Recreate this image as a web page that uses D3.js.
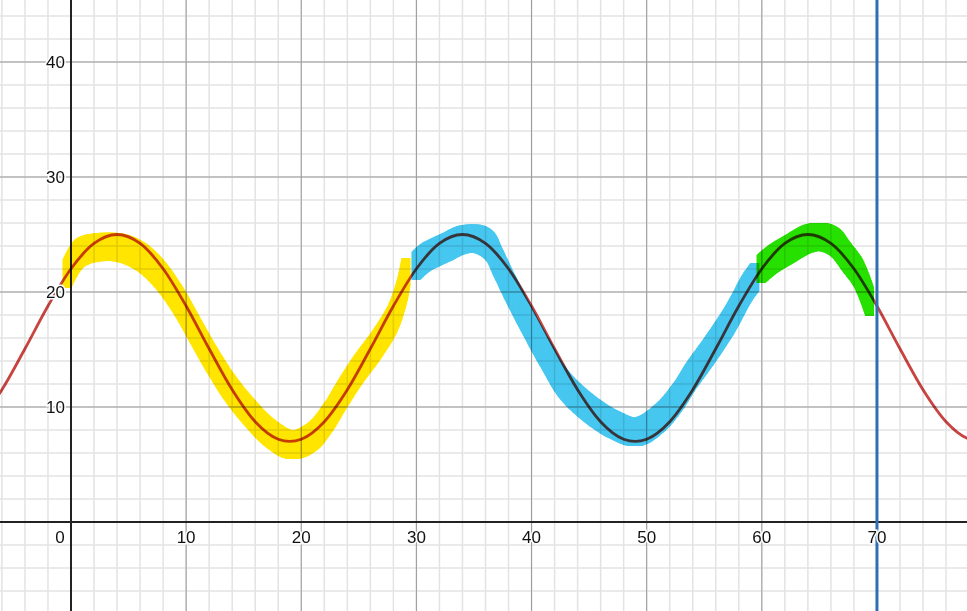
<!DOCTYPE html>
<html>
<head>
<meta charset="utf-8">
<script src="https://cdn.jsdelivr.net/npm/d3@7"></script>
<style>
  body { margin: 0; background: #fff; }
  text { font-family: "Liberation Sans", Arial, sans-serif; }
</style>
</head>
<body>
<div id="chart"></div>
<script>
// curve samples, every 2 units
var curveX = d3.range(-8, 81, 2);
var curveY = [8.72, 11.5, 15.06, 18.78, 22.02, 24.22, 25, 24.22, 22.02, 18.78,
              15.06, 11.5, 8.72, 7.2, 7.2, 8.72, 11.5, 15.06, 18.78, 22.02,
              24.22, 25, 24.22, 22.02, 18.78, 15.06, 11.5, 8.72, 7.2, 7.2,
              8.72, 11.5, 15.06, 18.78, 22.02, 24.22, 25, 24.22, 22.02, 18.78,
              15.06, 11.5, 8.72, 7.2, 7.2];

// hand drawn highlighter strokes (path of the nib centre)
var yellowStroke = [[-0.35, 21.57], [0.78, 23.4], [2.52, 23.9], [4.43, 23.8], [6.16, 23.0],
                    [7.73, 21.5], [9.29, 19.3], [10.76, 16.7], [12.24, 14.1], [13.8, 11.65],
                    [15.54, 9.48], [17.27, 7.74], [19.18, 6.7], [20.92, 7.39], [22.3, 9.04],
                    [23.52, 11.04], [24.91, 13.2], [26.65, 15.57], [27.95, 17.74], [28.73, 20.0],
                    [29.09, 21.74]];
var blueStroke = [[29.96, 22.26], [30.73, 22.96], [32.64, 23.91], [33.94, 24.52], [35.33, 24.61],
                  [36.37, 24.0], [37.07, 22.61], [38.11, 20.43], [39.58, 17.57], [41.15, 14.7],
                  [42.71, 12.09], [44.62, 10.17], [47.05, 8.52], [49.13, 7.83], [51.13, 9.04],
                  [52.69, 10.87], [53.91, 12.78], [55.3, 14.7], [57.2, 17.57], [58.77, 20.43],
                  [59.4, 21.3]];
var greenStroke = [[59.93, 22.0], [60.85, 22.78], [62.41, 23.74], [63.98, 24.61], [65.2, 24.78],
                   [66.32, 24.35], [67.36, 23.04], [68.32, 21.74], [69.01, 20.17], [69.36, 19.13]];

var xTicks = [0, 10, 20, 30, 40, 50, 60, 70];
var yTicks = [10, 20, 30, 40];
var markerX = 70;

var width = 967, height = 611;

var svg = d3.select("#chart")
  .append("svg")
    .attr("width", width)
    .attr("height", height);

svg.append("rect").attr("width", width).attr("height", height).attr("fill", "#fff");

var x = d3.scaleLinear().domain([-6.166, 77.82]).range([0, width]);
var y = d3.scaleLinear().domain([-7.74, 45.39]).range([height, 0]);

// minor grid
svg.append("g").selectAll("line")
  .data(d3.range(-6, 78, 2))
  .enter().append("line")
    .attr("x1", function(d) { return x(d); })
    .attr("x2", function(d) { return x(d); })
    .attr("y1", 0).attr("y2", height)
    .attr("stroke", "#e3e3e3").attr("stroke-width", 1.5);
svg.append("g").selectAll("line")
  .data(d3.range(-6, 46, 2))
  .enter().append("line")
    .attr("y1", function(d) { return y(d); })
    .attr("y2", function(d) { return y(d); })
    .attr("x1", 0).attr("x2", width)
    .attr("stroke", "#e3e3e3").attr("stroke-width", 1.5);

// major grid
svg.append("g").selectAll("line")
  .data(xTicks.slice(1))
  .enter().append("line")
    .attr("x1", function(d) { return x(d); })
    .attr("x2", function(d) { return x(d); })
    .attr("y1", 0).attr("y2", height)
    .attr("stroke", "#9a9a9a").attr("stroke-width", 1);
svg.append("g").selectAll("line")
  .data(yTicks)
  .enter().append("line")
    .attr("y1", function(d) { return y(d); })
    .attr("y2", function(d) { return y(d); })
    .attr("x1", 0).attr("x2", width)
    .attr("stroke", "#9a9a9a").attr("stroke-width", 1);

// axes
svg.append("line")
  .attr("x1", x(0)).attr("x2", x(0)).attr("y1", 0).attr("y2", height)
  .attr("stroke", "#222").attr("stroke-width", 2);
svg.append("line")
  .attr("y1", y(0)).attr("y2", y(0)).attr("x1", 0).attr("x2", width)
  .attr("stroke", "#222").attr("stroke-width", 2);

// highlighter strokes: a flat nib (narrow, tall) swept along a smooth path
var hl = d3.line()
  .x(function(d) { return x(d[0]); })
  .y(function(d) { return y(d[1]); })
  .curve(d3.curveCatmullRom);

var nibW = 9, nibH = 28;

function sweep(pts) {
  var tmp = svg.append("path").attr("d", hl(pts)).attr("fill", "none");
  var node = tmp.node(), len = node.getTotalLength();
  var samples = [];
  for (var s = 0; s < len; s += 2) samples.push(node.getPointAtLength(s));
  samples.push(node.getPointAtLength(len));
  tmp.remove();
  var polys = [];
  for (var i = 1; i < samples.length; i++) {
    var a = samples[i - 1], b = samples[i], corners = [];
    [a, b].forEach(function(p) {
      corners.push([p.x - nibW / 2, p.y - nibH / 2], [p.x + nibW / 2, p.y - nibH / 2],
                   [p.x + nibW / 2, p.y + nibH / 2], [p.x - nibW / 2, p.y + nibH / 2]);
    });
    polys.push(d3.polygonHull(corners));
  }
  return polys;
}

var strokes = [
  { pts: yellowStroke, color: "#ffe500" },
  { pts: blueStroke, color: "#46c7f0" },
  { pts: greenStroke, color: "#27e000" }
];
strokes.forEach(function(st) {
  svg.append("g")
    .style("mix-blend-mode", "multiply")
    .attr("fill", st.color)
    .selectAll("path")
    .data(sweep(st.pts))
    .enter().append("path")
      .attr("d", function(p) { return "M" + p.join("L") + "Z"; });
});

// the function curve
var line = d3.line()
  .x(function(d, i) { return x(curveX[i]); })
  .y(function(d) { return y(d); })
  .curve(d3.curveCardinal);

svg.append("path")
  .datum(curveY)
  .attr("d", line)
  .attr("fill", "none")
  .attr("stroke", "#c74440")
  .attr("stroke-width", 2.8)
  .style("mix-blend-mode", "multiply");

// vertical marker at x = 70
svg.append("line")
  .attr("x1", x(markerX)).attr("x2", x(markerX)).attr("y1", 0).attr("y2", height)
  .attr("stroke", "#2d70b3").attr("stroke-width", 3);

// tick labels
svg.append("g").selectAll("text")
  .data(xTicks)
  .enter().append("text")
    .attr("x", function(d) { return d === 0 ? x(d) - 11 : x(d); })
    .attr("y", y(0) + 21)
    .attr("text-anchor", "middle")
    .attr("font-size", 17)
    .attr("fill", "#111")
    .attr("stroke", "#fff").attr("stroke-width", 3).attr("paint-order", "stroke")
    .text(function(d) { return d; });

svg.append("g").selectAll("text")
  .data(yTicks)
  .enter().append("text")
    .attr("x", x(0) - 6)
    .attr("y", function(d) { return y(d) + 6; })
    .attr("text-anchor", "end")
    .attr("font-size", 17)
    .attr("fill", "#111")
    .attr("stroke", "#fff").attr("stroke-width", 3).attr("paint-order", "stroke")
    .text(function(d) { return d; });
</script>
</body>
</html>
